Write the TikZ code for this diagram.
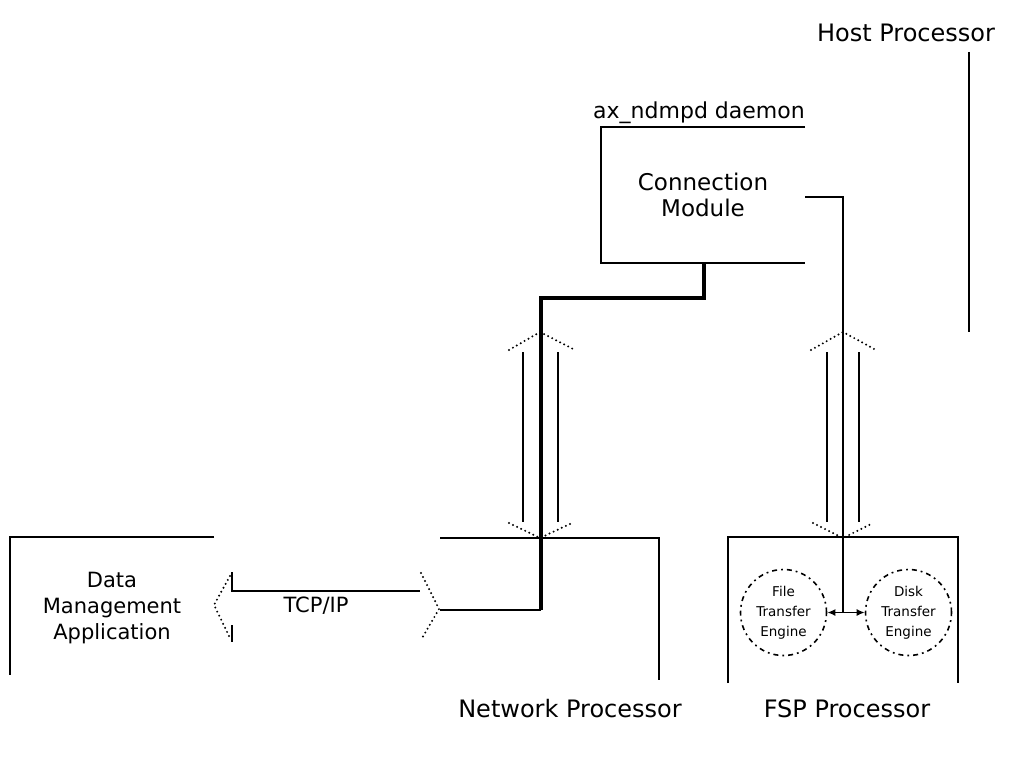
\documentclass[tikz,border=0pt]{standalone}
\usepackage{fontspec}
\setmainfont{DejaVu Sans}
\usetikzlibrary{arrows.meta}
\begin{document}
\begin{tikzpicture}[x=1pt,y=-1pt,
  wire/.style={line width=1.8pt},
  heavywire/.style={line width=3.8pt, line join=miter},
  dotline/.style={line width=2.2pt, dash pattern=on 0pt off 4.5pt, line cap=round},
  lbl/.style={inner sep=0pt, font=\fontsize{24}{28}\selectfont},
  smalllbl/.style={inner sep=0pt, align=center, font=\fontsize{21}{26}\selectfont},
  engine/.style={circle, minimum size=86pt, inner sep=0pt, align=center,
    line width=1.6pt, dash pattern=on 5pt off 4pt on 1.8pt off 4pt,
    font=\fontsize{13.5}{20}\selectfont},
  tip/.style={{Latex[length=8pt,width=7pt]}-{Latex[length=8pt,width=7pt]}}
]
\useasboundingbox (0,0) rectangle (1024,757);

% ---- text nodes
\node[lbl] (host) at (906,33) {Host Processor};
\node[inner sep=0pt, font=\fontsize{22}{26}\selectfont] (daemon) at (699,113) {ax\_ndmpd daemon};
\node[inner sep=0pt, align=center, font=\fontsize{23}{26}\selectfont] (conn) at (703,195) {Connection\\Module};
\node[smalllbl] (dma) at (112,608) {Data\\Management\\Application};
\node[inner sep=0pt, font=\fontsize{21}{25}\selectfont] (tcp) at (316,606) {TCP/IP};
\node[lbl] (nplbl) at (570,709) {Network Processor};
\node[lbl] (fsplbl) at (847,709) {FSP Processor};
\node[engine, draw] (fte) at (783.5,612.5) {File\\Transfer\\Engine};
\node[engine, draw] (dte) at (908.5,612.5) {Disk\\Transfer\\Engine};

% ---- named coordinates
\coordinate (hostT) at (969,52);
\coordinate (hostB) at (969,332);
\coordinate (cmTR) at (805,127);
\coordinate (cmTL) at (601,127);
\coordinate (cmBL) at (601,263);
\coordinate (cmBR) at (805,263);
\coordinate (cmOut) at (805,197);
\coordinate (cmDown) at (704,263);
\coordinate (fspMid) at (843,612.5);
\coordinate (npIn) at (440,610);
\coordinate (npJoin) at (541,610);

% ---- host processor boundary
\draw[wire] (hostT) -- (hostB);

% ---- connection module (open box)
\draw[wire] (cmTR) -- (cmTL) -- (cmBL) -- (cmBR);

% ---- data management application box
\draw[wire] (214,537) -- (10,537) -- (10,675);
% ---- network processor box
\draw[wire] (440,538) -- (659,538) -- (659,680);
% ---- FSP processor box
\draw[wire] (728,683) -- (728,537) -- (958,537) -- (958,683);

% ---- connectors
\draw[heavywire] (cmDown) -- (704,298) -- (541,298) -- (npJoin);
\draw[wire] (npJoin) -- (npIn);
\draw[wire] (cmOut) -| (fspMid);
\draw[wire, tip] (fte.east) -- (dte.west);

% ---- block arrow: network processor <-> connection module
\draw[wire] (523,352) -- (523,522);
\draw[wire] (558,352) -- (558,522);
\draw[dotline] (509,350) -- (540,332) -- (575,350);
\draw[dotline] (509,523) -- (540,538) -- (572,523);

% ---- block arrow: FSP <-> host
\draw[wire] (827,352) -- (827,522);
\draw[wire] (859,352) -- (859,522);
\draw[dotline] (811,350) -- (843,332) -- (876,350);
\draw[dotline] (813,523) -- (843,538) -- (873,523);

% ---- TCP/IP arrow
\draw[wire] (232,572) -- (232,591) -- (420,591);
\draw[wire] (232,625) -- (232,642);
\draw[dotline] (230,576) -- (214,605) -- (230,638);
\draw[dotline] (421,573) -- (439,609) -- (421,640);
\end{tikzpicture}
\end{document}
